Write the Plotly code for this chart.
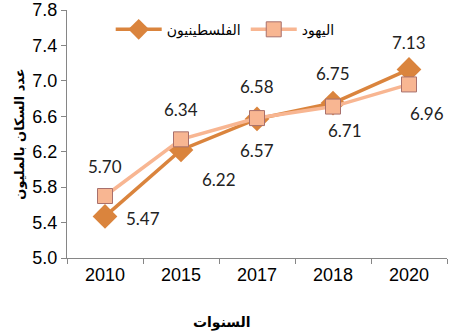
import plotly.graph_objects as go

years = ["2010", "2015", "2017", "2018", "2020"]
palestinians = [5.47, 6.22, 6.57, 6.75, 7.13]
jews = [5.70, 6.34, 6.58, 6.71, 6.96]
y_ticks = [5.0, 5.4, 5.8, 6.2, 6.6, 7.0, 7.4, 7.8]

pal_name = "الفلسطينيون"
jew_name = "اليهود"
y_title = "عدد السكان بالمليون"
x_title = "السنوات"

pal_color = "#DA843D"
jew_color = "#F8B692"

fig = go.Figure()
fig.add_trace(go.Scatter(
    x=years, y=palestinians, name=pal_name, mode="lines+markers",
    line=dict(color=pal_color, width=3.5),
    marker=dict(symbol="diamond", size=19, color=pal_color),
))
fig.add_trace(go.Scatter(
    x=years, y=jews, name=jew_name, mode="lines+markers",
    line=dict(color=jew_color, width=3.5),
    marker=dict(symbol="square", size=15, color=jew_color,
                line=dict(color="#A8706C", width=1)),
))

# value labels: (x shift, y shift) per point, placed on category index
pal_shift = [(38, -2), (38, -30), (0, -32), (0, 30), (0, 27)]
jew_shift = [(0, 30), (0, 30), (0, 32), (12, -24), (18, -29)]
label_font = dict(family="Lato, Open Sans, sans-serif", size=17, color="#222")
for vals, shifts in ((palestinians, pal_shift), (jews, jew_shift)):
    for i, (v, (dx, dy)) in enumerate(zip(vals, shifts)):
        fig.add_annotation(x=i, y=v, xref="x", yref="y", text=f"{v:.2f}",
                           showarrow=False, xshift=dx, yshift=dy, font=label_font)

# x-axis title
fig.add_annotation(x=(222 - 67) / 380, xref="paper", y=(258 - 322) / 248, yref="paper",
                   text=f"<b>{x_title}</b>", showarrow=False,
                   xanchor="center", yanchor="middle",
                   font=dict(family="DejaVu Sans, sans-serif", size=14, color="#000"))

axis_font = dict(family="Liberation Sans, Arial, sans-serif", size=18, color="#000")
fig.update_layout(
    width=455, height=331,
    margin=dict(l=67, r=8, t=10, b=73, autoexpand=False),
    paper_bgcolor="white", plot_bgcolor="white",
    showlegend=True,
    legend=dict(orientation="h", x=0.115, y=0.985, xanchor="left", yanchor="top",
                font=dict(family="DejaVu Sans, sans-serif", size=14, color="#000"),
                bgcolor="rgba(0,0,0,0)", itemwidth=46, traceorder="normal"),
    xaxis=dict(
        type="category", range=[-0.5, 4.5], tickson="boundaries", automargin=False,
        showline=True, linecolor="#868686", linewidth=1,
        ticks="outside", ticklen=5, tickcolor="#868686",
        showgrid=False, tickfont=axis_font,
    ),
    yaxis=dict(
        range=[5.0, 7.8005], tickvals=y_ticks, tickformat=".1f",
        ticklabeloverflow="allow", automargin=False,
        showline=True, linecolor="#868686", linewidth=1,
        ticks="outside", ticklen=5, tickcolor="#868686",
        showgrid=False, zeroline=False, tickfont=axis_font,
        title=dict(text=f"<b>{y_title}</b>", standoff=4,
                   font=dict(family="DejaVu Sans, sans-serif", size=13, color="#000")),
    ),
)

fig.write_html("out.html")
